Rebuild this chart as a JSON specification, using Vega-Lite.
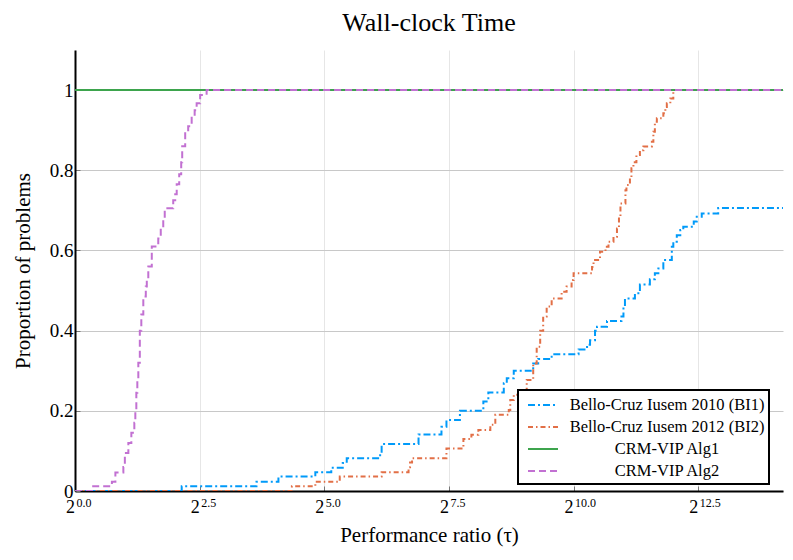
{
  "$schema": "https://vega.github.io/schema/vega-lite/v6.json",
  "width": 708,
  "height": 441,
  "autosize": "none",
  "padding": {"left": 75, "top": 50, "right": 10, "bottom": 69},
  "background": "white",
  "title": {"text": "Wall-clock Time", "font": "Liberation Serif", "fontSize": 26, "fontWeight": "normal", "color": "black", "offset": 14, "anchor": "middle"},
  "config": {
    "view": {"stroke": null},
    "font": "Liberation Serif",
    "axis": {"labelFont": "Liberation Serif", "titleFont": "Liberation Serif", "labelColor": "black", "titleColor": "black", "titleFontWeight": "normal"}
  },
  "layer": [
    {
      "data": {"values": [
        {"s":"BI1","d":"BI1","x":0,"y":0},{"s":"BI1","d":"BI1","x":2.14,"y":0.012},{"s":"BI1","d":"BI1","x":3.64,"y":0.023},{"s":"BI1","d":"BI1","x":4.08,"y":0.036},{"s":"BI1","d":"BI1","x":4.82,"y":0.047},{"s":"BI1","d":"BI1","x":5.14,"y":0.058},{"s":"BI1","d":"BI1","x":5.37,"y":0.07},{"s":"BI1","d":"BI1","x":5.45,"y":0.082},{"s":"BI1","d":"BI1","x":6.12,"y":0.094},{"s":"BI1","d":"BI1","x":6.15,"y":0.117},{"s":"BI1","d":"BI1","x":6.89,"y":0.141},{"s":"BI1","d":"BI1","x":7.35,"y":0.16},{"s":"BI1","d":"BI1","x":7.45,"y":0.177},{"s":"BI1","d":"BI1","x":7.72,"y":0.2},{"s":"BI1","d":"BI1","x":8.19,"y":0.223},{"s":"BI1","d":"BI1","x":8.29,"y":0.246},{"s":"BI1","d":"BI1","x":8.6,"y":0.269},{"s":"BI1","d":"BI1","x":8.66,"y":0.281},{"s":"BI1","d":"BI1","x":8.8,"y":0.3},{"s":"BI1","d":"BI1","x":9.19,"y":0.318},{"s":"BI1","d":"BI1","x":9.29,"y":0.329},{"s":"BI1","d":"BI1","x":9.56,"y":0.341},{"s":"BI1","d":"BI1","x":10.1,"y":0.353},{"s":"BI1","d":"BI1","x":10.27,"y":0.365},{"s":"BI1","d":"BI1","x":10.33,"y":0.376},{"s":"BI1","d":"BI1","x":10.43,"y":0.4},{"s":"BI1","d":"BI1","x":10.47,"y":0.41},{"s":"BI1","d":"BI1","x":10.67,"y":0.424},{"s":"BI1","d":"BI1","x":10.96,"y":0.435},{"s":"BI1","d":"BI1","x":11.0,"y":0.46},{"s":"BI1","d":"BI1","x":11.03,"y":0.48},{"s":"BI1","d":"BI1","x":11.23,"y":0.493},{"s":"BI1","d":"BI1","x":11.33,"y":0.515},{"s":"BI1","d":"BI1","x":11.53,"y":0.528},{"s":"BI1","d":"BI1","x":11.63,"y":0.543},{"s":"BI1","d":"BI1","x":11.7,"y":0.555},{"s":"BI1","d":"BI1","x":11.8,"y":0.576},{"s":"BI1","d":"BI1","x":11.97,"y":0.609},{"s":"BI1","d":"BI1","x":12.0,"y":0.622},{"s":"BI1","d":"BI1","x":12.07,"y":0.638},{"s":"BI1","d":"BI1","x":12.14,"y":0.651},{"s":"BI1","d":"BI1","x":12.2,"y":0.659},{"s":"BI1","d":"BI1","x":12.41,"y":0.672},{"s":"BI1","d":"BI1","x":12.47,"y":0.684},{"s":"BI1","d":"BI1","x":12.57,"y":0.692},{"s":"BI1","d":"BI1","x":12.9,"y":0.706},{"s":"BI1","d":"BI1","x":14.2,"y":0.706},
        {"s":"BI2","d":"BI2","x":0,"y":0},{"s":"BI2","d":"BI2","x":4.35,"y":0.012},{"s":"BI2","d":"BI2","x":4.82,"y":0.023},{"s":"BI2","d":"BI2","x":5.31,"y":0.036},{"s":"BI2","d":"BI2","x":6.15,"y":0.047},{"s":"BI2","d":"BI2","x":6.69,"y":0.059},{"s":"BI2","d":"BI2","x":6.72,"y":0.071},{"s":"BI2","d":"BI2","x":6.76,"y":0.082},{"s":"BI2","d":"BI2","x":7.45,"y":0.106},{"s":"BI2","d":"BI2","x":7.79,"y":0.13},{"s":"BI2","d":"BI2","x":7.95,"y":0.14},{"s":"BI2","d":"BI2","x":8.09,"y":0.152},{"s":"BI2","d":"BI2","x":8.33,"y":0.165},{"s":"BI2","d":"BI2","x":8.43,"y":0.19},{"s":"BI2","d":"BI2","x":8.7,"y":0.202},{"s":"BI2","d":"BI2","x":8.73,"y":0.227},{"s":"BI2","d":"BI2","x":8.8,"y":0.24},{"s":"BI2","d":"BI2","x":8.96,"y":0.252},{"s":"BI2","d":"BI2","x":9.06,"y":0.277},{"s":"BI2","d":"BI2","x":9.19,"y":0.318},{"s":"BI2","d":"BI2","x":9.26,"y":0.36},{"s":"BI2","d":"BI2","x":9.33,"y":0.4},{"s":"BI2","d":"BI2","x":9.39,"y":0.435},{"s":"BI2","d":"BI2","x":9.46,"y":0.46},{"s":"BI2","d":"BI2","x":9.56,"y":0.48},{"s":"BI2","d":"BI2","x":9.76,"y":0.497},{"s":"BI2","d":"BI2","x":9.86,"y":0.51},{"s":"BI2","d":"BI2","x":9.96,"y":0.526},{"s":"BI2","d":"BI2","x":10.0,"y":0.543},{"s":"BI2","d":"BI2","x":10.37,"y":0.559},{"s":"BI2","d":"BI2","x":10.4,"y":0.576},{"s":"BI2","d":"BI2","x":10.53,"y":0.597},{"s":"BI2","d":"BI2","x":10.64,"y":0.609},{"s":"BI2","d":"BI2","x":10.7,"y":0.622},{"s":"BI2","d":"BI2","x":10.8,"y":0.634},{"s":"BI2","d":"BI2","x":10.87,"y":0.655},{"s":"BI2","d":"BI2","x":10.91,"y":0.684},{"s":"BI2","d":"BI2","x":10.94,"y":0.717},{"s":"BI2","d":"BI2","x":11.04,"y":0.75},{"s":"BI2","d":"BI2","x":11.06,"y":0.763},{"s":"BI2","d":"BI2","x":11.13,"y":0.78},{"s":"BI2","d":"BI2","x":11.16,"y":0.805},{"s":"BI2","d":"BI2","x":11.2,"y":0.82},{"s":"BI2","d":"BI2","x":11.26,"y":0.838},{"s":"BI2","d":"BI2","x":11.33,"y":0.85},{"s":"BI2","d":"BI2","x":11.4,"y":0.859},{"s":"BI2","d":"BI2","x":11.57,"y":0.871},{"s":"BI2","d":"BI2","x":11.6,"y":0.896},{"s":"BI2","d":"BI2","x":11.63,"y":0.921},{"s":"BI2","d":"BI2","x":11.67,"y":0.93},{"s":"BI2","d":"BI2","x":11.8,"y":0.942},{"s":"BI2","d":"BI2","x":11.84,"y":0.958},{"s":"BI2","d":"BI2","x":11.87,"y":0.967},{"s":"BI2","d":"BI2","x":11.94,"y":0.979},{"s":"BI2","d":"BI2","x":12.0,"y":1.0},{"s":"BI2","d":"BI2","x":14.2,"y":1.0},
        {"s":"Alg1","d":"Alg1","x":0,"y":1.0},{"s":"Alg1","d":"Alg1","x":14.2,"y":1.0},
        {"s":"Alg2","d":"Alg2","x":0,"y":0},{"s":"Alg2","d":"Alg2","x":0.34,"y":0.012},{"s":"Alg2","d":"Alg2","x":0.74,"y":0.023},{"s":"Alg2","d":"Alg2","x":0.81,"y":0.046},{"s":"Alg2","d":"Alg2","x":0.97,"y":0.06},{"s":"Alg2","d":"Alg2","x":1.0,"y":0.095},{"s":"Alg2","d":"Alg2","x":1.07,"y":0.12},{"s":"Alg2","d":"Alg2","x":1.13,"y":0.145},{"s":"Alg2","d":"Alg2","x":1.19,"y":0.17},{"s":"Alg2","d":"Alg2","x":1.21,"y":0.2},{"s":"Alg2","d":"Alg2","x":1.23,"y":0.245},{"s":"Alg2","d":"Alg2","x":1.25,"y":0.28},{"s":"Alg2","d":"Alg2","x":1.27,"y":0.32},{"s":"Alg2","d":"Alg2","x":1.3,"y":0.4},{"s":"Alg2","d":"Alg2","x":1.33,"y":0.44},{"s":"Alg2","d":"Alg2","x":1.37,"y":0.485},{"s":"Alg2","d":"Alg2","x":1.42,"y":0.51},{"s":"Alg2","d":"Alg2","x":1.44,"y":0.526},{"s":"Alg2","d":"Alg2","x":1.47,"y":0.56},{"s":"Alg2","d":"Alg2","x":1.54,"y":0.61},{"s":"Alg2","d":"Alg2","x":1.67,"y":0.63},{"s":"Alg2","d":"Alg2","x":1.72,"y":0.655},{"s":"Alg2","d":"Alg2","x":1.77,"y":0.68},{"s":"Alg2","d":"Alg2","x":1.8,"y":0.705},{"s":"Alg2","d":"Alg2","x":1.97,"y":0.725},{"s":"Alg2","d":"Alg2","x":2.01,"y":0.74},{"s":"Alg2","d":"Alg2","x":2.04,"y":0.765},{"s":"Alg2","d":"Alg2","x":2.09,"y":0.79},{"s":"Alg2","d":"Alg2","x":2.13,"y":0.82},{"s":"Alg2","d":"Alg2","x":2.15,"y":0.86},{"s":"Alg2","d":"Alg2","x":2.21,"y":0.895},{"s":"Alg2","d":"Alg2","x":2.27,"y":0.91},{"s":"Alg2","d":"Alg2","x":2.34,"y":0.935},{"s":"Alg2","d":"Alg2","x":2.4,"y":0.95},{"s":"Alg2","d":"Alg2","x":2.44,"y":0.967},{"s":"Alg2","d":"Alg2","x":2.51,"y":0.988},{"s":"Alg2","d":"Alg2","x":2.64,"y":1.0},{"s":"Alg2","d":"Alg2","x":14.2,"y":1.0}
      ]},
      "mark": {"type": "line", "interpolate": "step-after", "strokeWidth": 2, "clip": true},
      "encoding": {
        "x": {"field": "x", "type": "quantitative", "scale": {"domain": [0, 14.2], "nice": false, "zero": false},
          "axis": {"values": [0, 2.5, 5, 7.5, 10, 12.5], "labels": false, "title": "Performance ratio (τ)", "titleFontSize": 21, "titlePadding": 33,
            "domainColor": "black", "domainWidth": 2, "tickSize": -5, "tickColor": "#777", "gridColor": "#e6e6e6", "gridWidth": 1}},
        "y": {"field": "y", "type": "quantitative", "scale": {"domain": [0, 1.1], "nice": false},
          "axis": {"values": [0, 0.2, 0.4, 0.6, 0.8, 1], "format": "~g", "labelFontSize": 19, "labelPadding": 7, "title": "Proportion of problems", "titleFontSize": 21, "titlePadding": 16,
            "domainColor": "black", "domainWidth": 2, "tickSize": -5, "tickColor": "#777", "gridColor": "#c8c8c8", "gridWidth": 1}},
        "color": {"field": "s", "type": "nominal",
          "scale": {"domain": ["BI1", "BI2", "Alg1", "Alg2"], "range": ["#009af9", "#e26f46", "#3da44d", "#c271d2"]},
          "legend": {"title": null, "orient": "none", "legendX": 443, "legendY": 340, "strokeColor": "black", "fillColor": "white", "padding": 4,
            "symbolType": "M -1 0 L 2 0", "symbolSize": 400, "symbolStrokeWidth": 2, "symbolOffset": 5, "symbolDash": [1, 0], "labelFont": "Liberation Serif", "labelFontSize": 16.5, "labelColor": "black",
            "labelAlign": "center", "labelOffset": 118, "labelLimit": 400, "rowPadding": 2,
            "encode": {"legend": {"update": {"strokeWidth": {"value": 2}}}, "symbols": {"update": {"strokeDash": {"value": [1, 0]}}}},
            "labelExpr": "datum.label == 'BI1' ? 'Bello-Cruz Iusem 2010 (BI1)' : datum.label == 'BI2' ? 'Bello-Cruz Iusem 2012 (BI2)' : datum.label == 'Alg1' ? 'CRM-VIP Alg1' : 'CRM-VIP Alg2'"}},
        "strokeDash": {"field": "d", "type": "nominal",
          "scale": {"domain": ["BI1", "BI2", "Alg1", "Alg2"], "range": [[7, 3, 2, 3], [5, 3, 1.5, 3], [1, 0], [7, 4]]}, "legend": null}
      }
    },
    {
      "data": {"values": [{"t": 0, "b": "2"}, {"t": 2.5, "b": "2"}, {"t": 5, "b": "2"}, {"t": 7.5, "b": "2"}, {"t": 10, "b": "2"}, {"t": 12.5, "b": "2"}]},
      "mark": {"type": "text", "align": "right", "baseline": "alphabetic", "dx": 0, "dy": 21.5, "fontSize": 18, "font": "Liberation Serif", "color": "black"},
      "encoding": {"x": {"field": "t", "type": "quantitative"}, "y": {"datum": 0}, "text": {"field": "b", "type": "nominal"}}
    },
    {
      "data": {"values": [{"t": 0, "e": "0.0"}, {"t": 2.5, "e": "2.5"}, {"t": 5, "e": "5.0"}, {"t": 7.5, "e": "7.5"}, {"t": 10, "e": "10.0"}, {"t": 12.5, "e": "12.5"}]},
      "mark": {"type": "text", "align": "left", "baseline": "alphabetic", "dx": 1.5, "dy": 16, "fontSize": 12, "font": "Liberation Serif", "color": "black"},
      "encoding": {"x": {"field": "t", "type": "quantitative"}, "y": {"datum": 0}, "text": {"field": "e", "type": "nominal"}}
    }
  ]
}
